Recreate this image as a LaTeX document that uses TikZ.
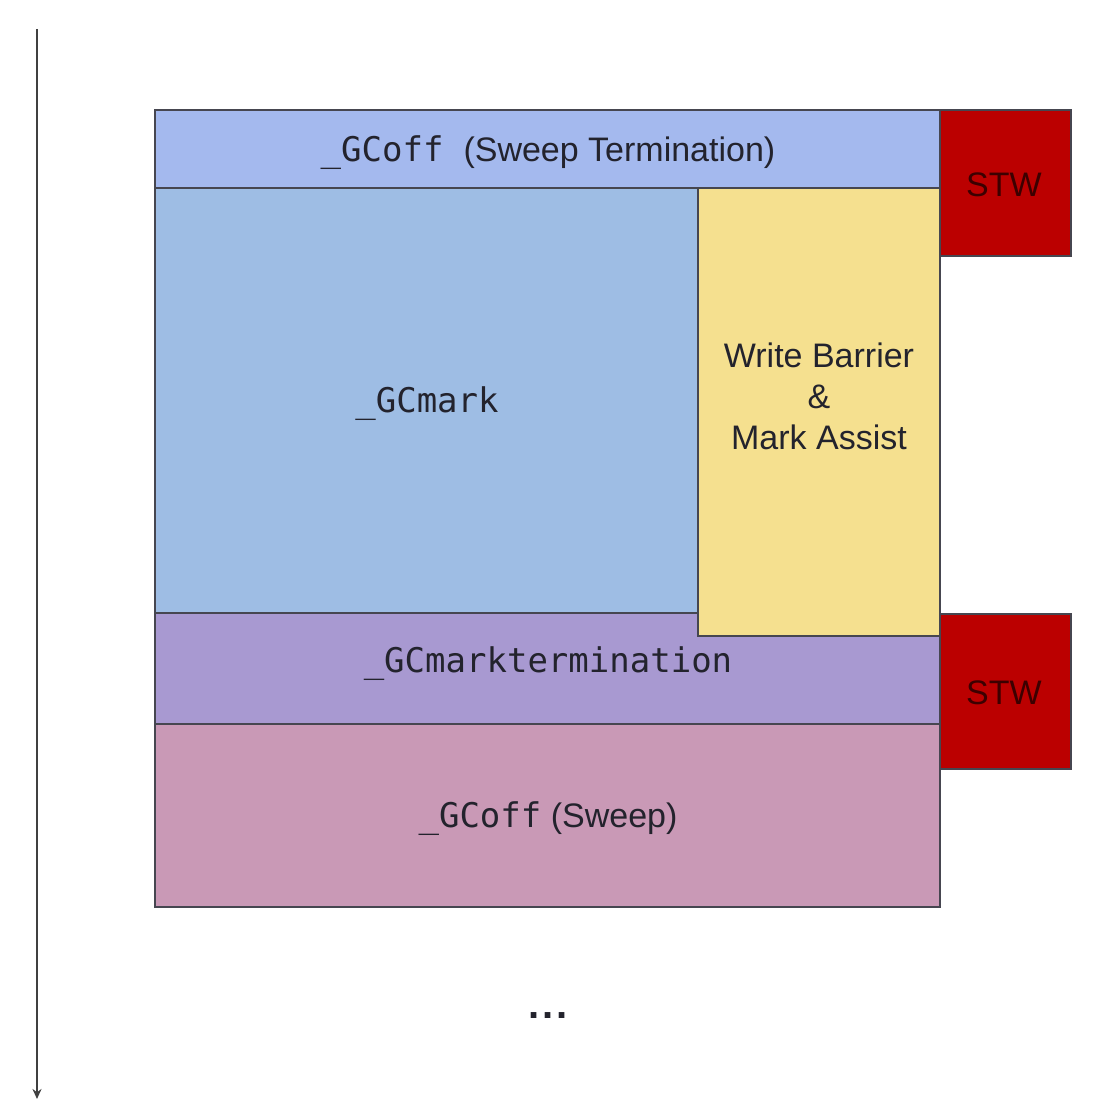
\documentclass[tikz,border=0pt]{standalone}
\usepackage{fontspec}
\setmainfont{Liberation Sans}
\newfontfamily\gcmono{DejaVu Sans Mono}
\usetikzlibrary{arrows.meta}
\definecolor{topband}{RGB}{164,185,238}
\definecolor{markblue}{RGB}{158,189,228}
\definecolor{wbyellow}{RGB}{245,224,143}
\definecolor{termpurple}{RGB}{168,153,209}
\definecolor{sweeppink}{RGB}{201,153,182}
\definecolor{stwred}{RGB}{187,0,0}
\definecolor{stwtext}{RGB}{60,0,0}
\definecolor{edge}{RGB}{70,70,80}
\definecolor{txt}{RGB}{35,35,45}
\tikzset{
  phase/.style={draw=edge, line width=1.4pt, anchor=north west, inner sep=0pt, outer sep=0pt},
  lbl/.style={text=txt, font=\fontsize{34}{41}\selectfont, align=center, inner sep=0pt},
  stwbox/.style={phase, fill=stwred, text=stwtext, font=\fontsize{34}{41}\selectfont}
}
\begin{document}
\begin{tikzpicture}[x=1pt,y=-1pt]
\useasboundingbox[fill=white] (0,0) rectangle (1109,1102);
% phases
\node[phase, fill=topband, minimum width=785pt, minimum height=78pt] (top) at (155,110) {};
\node[phase, fill=markblue, minimum width=543pt, minimum height=425pt] (mark) at (155,188) {};
\node[phase, fill=termpurple, minimum width=785pt, minimum height=111pt] (term) at (155,613) {};
\node[phase, fill=sweeppink, minimum width=785pt, minimum height=183pt] (sweep) at (155,724) {};
\node[phase, fill=wbyellow, minimum width=242pt, minimum height=448pt] (wb) at (698,188) {};
\node[stwbox, minimum width=131pt, minimum height=146pt] (stw1) at (940,110) {};
\node[stwbox, minimum width=131pt, minimum height=155pt] (stw2) at (940,614) {};
% labels
\node[lbl] (topl) at (548,153) {{\gcmono\_GCoff}\hspace{20pt}(Sweep Termination)};
\node[lbl] (markl) at (427,404) {\gcmono\_GCmark};
\node[lbl] (wbl) at (819,396) {Write Barrier\\\&\\Mark Assist};
\node[lbl] (terml) at (548,664) {\gcmono\_GCmarktermination};
\node[lbl] (sweepl) at (548,819) {{\gcmono\_GCoff} (Sweep)};
\node[lbl, text=stwtext] (stw1l) at (1004,185) {STW};
\node[lbl, text=stwtext] (stw2l) at (1004,693) {STW};
\node[lbl, font=\fontsize{40}{41}\selectfont\bfseries] (dots) at (548,1016) {.\hspace{3pt}.\hspace{3pt}.};
% time arrow
\coordinate (tstart) at (37,29);
\coordinate (tend) at (37,1099);
\draw[line width=1.6pt, draw=black!75, -{Stealth[length=10pt,width=9pt]}] (tstart) -- (tend);
\end{tikzpicture}
\end{document}
